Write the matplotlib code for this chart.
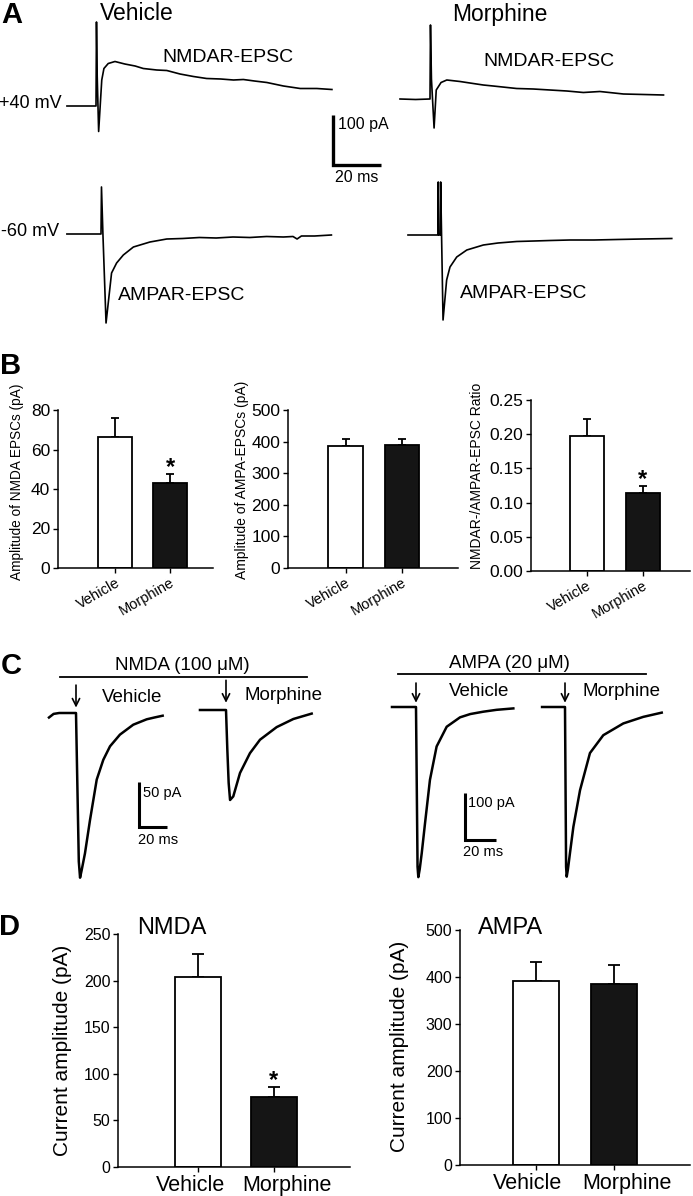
import numpy as np
import matplotlib
matplotlib.use('Agg')
import matplotlib.pyplot as plt
from matplotlib.lines import Line2D
from matplotlib.transforms import ScaledTranslation

plt.rcParams['font.family'] = ['Liberation Sans', 'DejaVu Sans']

# ---------------- data ----------------
groups = ['Vehicle', 'Morphine']

# panel A traces, time in ms (0 = stimulus), current in pA (0 = baseline)
a_veh_nmda_t = [-12.1, -6, 0, 0.2, 0.5, 1.1, 2.4, 3.3, 5.1, 7.9, 12, 16.3, 19.7, 25.3, 29.5, 35,
                40.6, 46.1, 52, 57.3, 61.4, 66, 71.2, 78.1, 85.1, 92, 98.3]
a_veh_nmda_i = [0, 0, 0, 168, 60, -51, 52, 75, 85, 89, 84, 80, 75, 72, 71, 64,
                59, 55, 54, 52, 53, 50, 47, 40, 35, 35, 33]
a_mor_nmda_t = [-12.5, -6, 0, 0.2, 0.6, 1.7, 2.6, 4.6, 7.0, 12.5, 18, 22.2, 26.3, 36.1, 43, 50,
                57, 63.9, 70.8, 80.6, 89, 97.3]
a_mor_nmda_i = [0, -1, 0, 148, 40, -58, 18, 33, 38, 35, 31, 28, 26, 21, 20, 18,
                16, 13, 15, 10, 9, 8]
a_veh_ampa_t = [-14.2, -7, 0, 0.2, 0.8, 2.1, 4.4, 6.5, 9.3, 13.5, 20.4, 27.4, 34, 41, 48, 55,
                62, 69, 76, 80, 81.7, 83.5, 89, 96]
a_veh_ampa_i = [0, 0, 0, 94, 0, -178, -78, -58, -42, -26, -16, -10, -9, -7, -8, -6,
                -7, -5, -6, -5, -10, -4, -4, -2]
a_mor_ampa_t = [-12.5, -6, 0, 0.1, 0.3, 1.0, 1.1, 2.1, 3.6, 5.0, 7.8, 12.0, 18.9, 25, 32.8, 40,
                46.7, 55, 65, 74.5, 85, 97.4]
a_mor_ampa_i = [0, 0, 0, 106, 0, 0, 106, -170, -90, -64, -44, -30, -20, -16, -13, -12,
                -11, -10, -10, -9, -8, -7]

# panel C traces
c_veh_nmda_t = [-19.3, -16, -12, -6, 0, 2.0, 2.9, 4.0, 6.4, 10, 14.8, 19.5, 24.3, 31.4, 40.9, 50.5, 56, 61.9]
c_veh_nmda_i = [-5, -1, 0, 0, 0, -165, -183, -175, -156, -119, -74, -52, -37, -24, -13, -7, -5, -3]
c_mor_nmda_t = [-18.6, -12, -6, 0, 0.95, 1.9, 2.9, 5.2, 10, 17.1, 24.3, 36.2, 48.1, 61.2]
c_mor_nmda_i = [0, 0, 0, 0, -44, -81, -100, -96, -70, -48, -33, -19, -10, -4]
c_veh_ampa_t = [-15.5, -8, 0, 1.0, 1.5, 2.4, 3.7, 5.8, 9.0, 13.3, 19.8, 28.4, 35, 43.4, 52, 62.8]
c_veh_ampa_i = [0, 0, 0, -340, -362, -345, -311, -248, -155, -84, -42, -22, -15, -10, -6, -3]
c_mor_ampa_t = [-14.8, -8, 0, 0.7, 1.1, 1.9, 3.2, 5.4, 9.7, 16.1, 24.7, 37.6, 50.5, 62.4]
c_mor_ampa_i = [0, 0, 0, -340, -361, -345, -311, -255, -177, -98, -60, -35, -21, -12]

# panel B bar data (mean, SEM)
nmda_epsc = [66.5, 43.0]
nmda_epsc_err = [9.5, 4.5]
ampa_epsc = [385, 388]
ampa_epsc_err = [24, 20]
ratio = [0.197, 0.114]
ratio_err = [0.025, 0.0105]

# panel D bar data
nmda_cur = [204, 75]
nmda_cur_err = [25, 11]
ampa_cur = [392, 385]
ampa_cur_err = [39, 41]

# ---------------- figure ----------------
W, H = 693, 1196
fig = plt.figure(figsize=(W / 100, H / 100), dpi=100)


def txt(x, y, s, **kw):
    kw.setdefault('va', 'center')
    fig.text(x / W, 1 - y / H, s, **kw)


def trace_ax(x0, y0, ms_px, pa_px, tlim=(-25, 130), ilim=(-400, 200)):
    # axes placed so that t=0 / baseline lands on pixel (x0, y0)
    left = x0 + tlim[0] / ms_px
    right = x0 + tlim[1] / ms_px
    top = y0 - ilim[1] / pa_px
    bottom = y0 - ilim[0] / pa_px
    ax = fig.add_axes([left / W, 1 - bottom / H, (right - left) / W, (bottom - top) / H])
    ax.set_xlim(tlim)
    ax.set_ylim(ilim)
    ax.axis('off')
    return ax


def scale_bar(ax, t0, i0, dt, di, lw):
    ax.plot([t0, t0, t0 + dt], [i0 + di, i0, i0], color='black', lw=lw,
            solid_joinstyle='miter', solid_capstyle='butt', clip_on=False)


def bar_ax(box, means, errs, yticks, fmt, xlim, width, tick_fs, cap, rotate):
    x0, y0, x1, y1 = box
    ax = fig.add_axes([x0 / W, 1 - y1 / H, (x1 - x0) / W, (y1 - y0) / H])
    pos = np.arange(len(means))
    ax.bar(pos, means, width, color=['white', '#151515'], edgecolor='black', linewidth=1.3, zorder=2)
    ax.errorbar(pos, means, yerr=[np.zeros(len(errs)), errs], fmt='none', ecolor='black',
                elinewidth=1.3, capsize=cap, capthick=1.3, zorder=1)
    ax.set_xlim(xlim)
    ax.set_ylim(yticks[0], yticks[-1])
    ax.set_yticks(yticks, [fmt.format(v) for v in yticks], fontsize=tick_fs)
    if rotate:
        ax.set_xticks(pos, groups, rotation=30, ha='right', rotation_mode='anchor', fontsize=10.5)
    else:
        ax.set_xticks(pos, groups, fontsize=15.5)
    for s in ['top', 'right']:
        ax.spines[s].set_visible(False)
    for s in ['left', 'bottom']:
        ax.spines[s].set_linewidth(1.1)
    ax.tick_params(direction='out', length=3.5, width=1.0, pad=2)
    return ax


def shift_xlabels(ax, dx_px):
    for lab, dx in zip(ax.get_xticklabels(), dx_px):
        lab.set_transform(lab.get_transform() + ScaledTranslation(dx / 100, 0, fig.dpi_scale_trans))


# ---------- panel A ----------
ms_a, pa_a = 20 / 48, 100 / 50
ax = trace_ax(96, 106, ms_a, pa_a)
ax.plot(a_veh_nmda_t, a_veh_nmda_i, color='black', lw=1.2)
scale_bar(ax, (333 - 96) * ms_a, (106 - 165) * pa_a, 20, 100, 2.4)
ax = trace_ax(430, 99, ms_a, pa_a)
ax.plot(a_mor_nmda_t, a_mor_nmda_i, color='black', lw=1.2)
ax = trace_ax(101, 234, ms_a, pa_a)
ax.plot(a_veh_ampa_t, a_veh_ampa_i, color='black', lw=1.2)
ax = trace_ax(438, 235, ms_a, pa_a)
ax.plot(a_mor_ampa_t, a_mor_ampa_i, color='black', lw=1.2)

txt(1, 15, 'A', fontsize=21, fontweight='bold')
txt(100, 14, 'Vehicle', fontsize=16.5)
txt(452, 15, 'Morphine', fontsize=16.5)
txt(162, 58, 'NMDAR-EPSC', fontsize=14)
txt(483, 62, 'NMDAR-EPSC', fontsize=14)
txt(-1, 103, '+40 mV', fontsize=13)
txt(1, 232, '-60 mV', fontsize=13)
txt(118, 295, 'AMPAR-EPSC', fontsize=14)
txt(460, 293, 'AMPAR-EPSC', fontsize=14)
txt(338, 124, '100 pA', fontsize=11.5)
txt(335, 178, '20 ms', fontsize=11.5)

# ---------- panel B ----------
txt(0, 366, 'B', fontsize=21, fontweight='bold')
ax = bar_ax((58, 410, 213, 568), nmda_epsc, nmda_epsc_err, [0, 20, 40, 60, 80], '{:.0f}',
            (-1.04, 1.78), 0.62, 12.5, 3, True)
ax.text(1, nmda_epsc[1] + nmda_epsc_err[1], '*', ha='center', va='baseline', fontsize=17, fontweight='bold')
txt(17, 482, 'Amplitude of NMDA EPSCs (pA)', fontsize=9.8, rotation=90, ha='center')

ax = bar_ax((288, 410, 458, 568), ampa_epsc, ampa_epsc_err, [0, 100, 200, 300, 400, 500], '{:.0f}',
            (-1.03, 2.0), 0.62, 12.5, 3, True)
txt(242, 480, 'Amplitude of AMPA-EPSCs (pA)', fontsize=10, rotation=90, ha='center')

ax = bar_ax((531, 400, 690, 571), ratio, ratio_err, [0, 0.05, 0.10, 0.15, 0.20, 0.25], '{:.2f}',
            (-1.0, 1.84), 0.61, 12.5, 3, True)
ax.text(1, ratio[1] + ratio_err[1], '*', ha='center', va='baseline', fontsize=17, fontweight='bold')
txt(477, 476, 'NMDAR-/AMPAR-EPSC Ratio', fontsize=10, rotation=90, ha='center')

# ---------- panel C ----------
txt(1, 666, 'C', fontsize=21, fontweight='bold')
ms_n, pa_n = 20 / 28, 50 / 45
ax = trace_ax(76, 713, ms_n, pa_n)
ax.plot(c_veh_nmda_t, c_veh_nmda_i, color='black', lw=1.8)
scale_bar(ax, (139 - 76) * ms_n, (713 - 827) * pa_n, 20, 50, 2.2)
ax.annotate('', xy=(0, 6), xytext=(0, 31), annotation_clip=False,
            arrowprops=dict(arrowstyle='->', lw=1.2, mutation_scale=13, shrinkA=0, shrinkB=0))
ax = trace_ax(226, 710, ms_n, pa_n)
ax.plot(c_mor_nmda_t, c_mor_nmda_i, color='black', lw=1.8)
ax.annotate('', xy=(0, 8), xytext=(0, 33), annotation_clip=False,
            arrowprops=dict(arrowstyle='->', lw=1.2, mutation_scale=13, shrinkA=0, shrinkB=0))

ms_m, pa_m = 20 / 31, 100 / 47
ax = trace_ax(416, 707, ms_m, pa_m)
ax.plot(c_veh_ampa_t, c_veh_ampa_i, color='black', lw=1.8)
scale_bar(ax, (465 - 416) * ms_m, (707 - 840) * pa_m, 20, 100, 2.2)
ax.annotate('', xy=(0, 9), xytext=(0, 51), annotation_clip=False,
            arrowprops=dict(arrowstyle='->', lw=1.2, mutation_scale=13, shrinkA=0, shrinkB=0))
ax = trace_ax(565, 707, ms_m, pa_m)
ax.plot(c_mor_ampa_t, c_mor_ampa_i, color='black', lw=1.8)
ax.annotate('', xy=(0, 9), xytext=(0, 51), annotation_clip=False,
            arrowprops=dict(arrowstyle='->', lw=1.2, mutation_scale=13, shrinkA=0, shrinkB=0))

# drug application bars
for x0, x1, y in [(60, 307, 677), (398, 646, 674)]:
    fig.add_artist(Line2D([x0 / W, x1 / W], [1 - y / H, 1 - y / H], transform=fig.transFigure,
                          color='black', lw=1.3))
txt(115, 666, 'NMDA (100 \u03bcM)', fontsize=13.5)
txt(449, 663, 'AMPA (20 \u03bcM)', fontsize=13.5)
txt(102, 697, 'Vehicle', fontsize=13.5)
txt(245, 695, 'Morphine', fontsize=13.5)
txt(449, 692, 'Vehicle', fontsize=13.5)
txt(583, 692, 'Morphine', fontsize=13.5)
txt(143, 793, '50 pA', fontsize=10.5)
txt(138, 840, '20 ms', fontsize=10.5)
txt(468, 803, '100 pA', fontsize=10.5)
txt(463, 852, '20 ms', fontsize=10.5)

# ---------- panel D ----------
txt(-1, 927, 'D', fontsize=21, fontweight='bold')
ax = bar_ax((118, 934, 350, 1167), nmda_cur, nmda_cur_err, [0, 50, 100, 150, 200, 250], '{:.0f}',
            (-1.05, 2.0), 0.6, 11.5, 4.3, False)
ax.text(1, nmda_cur[1] + nmda_cur_err[1], '*', ha='center', va='baseline', fontsize=17, fontweight='bold')
shift_xlabels(ax, [-7, 13])
txt(137, 928, 'NMDA', fontsize=17)
txt(62, 1050, 'Current amplitude (pA)', fontsize=15, rotation=90, ha='center')

ax = bar_ax((460, 930, 690, 1165), ampa_cur, ampa_cur_err, [0, 100, 200, 300, 400, 500], '{:.0f}',
            (-0.97, 1.97), 0.59, 11.5, 4.3, False)
shift_xlabels(ax, [-8, 13])
txt(478, 928, 'AMPA', fontsize=17)
txt(400, 1046, 'Current amplitude (pA)', fontsize=15, rotation=90, ha='center')

fig.savefig('out.png', dpi=100)
